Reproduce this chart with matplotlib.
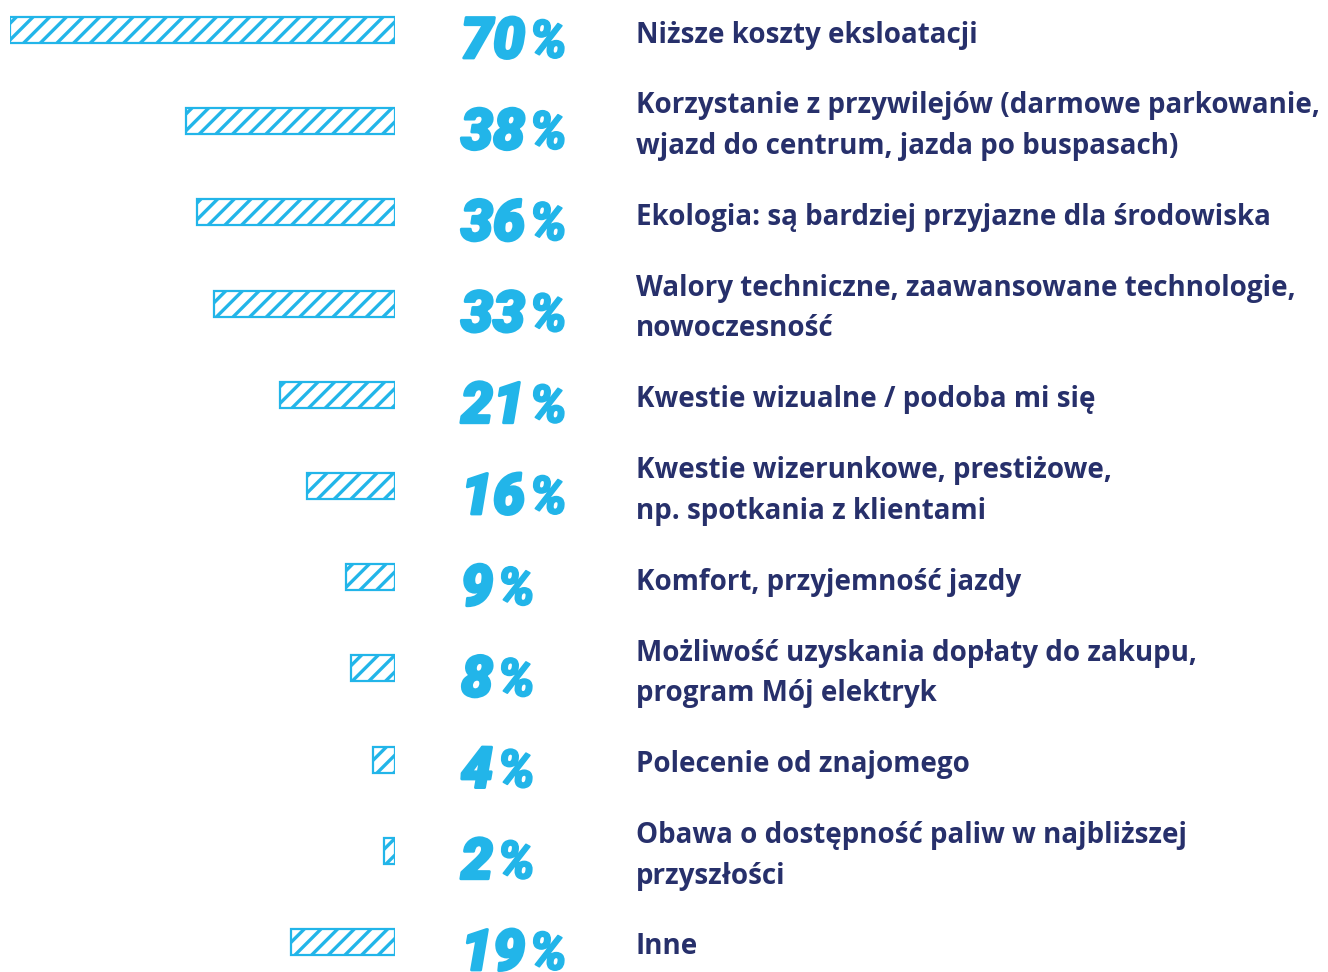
import matplotlib
matplotlib.use("Agg")
import matplotlib.pyplot as plt
import matplotlib.patheffects as pe
from matplotlib.transforms import blended_transform_factory

values = [70, 38, 36, 33, 21, 16, 9, 8, 4, 2, 19]
labels = [
    "Niższe koszty eksloatacji",
    "Korzystanie z przywilejów (darmowe parkowanie,\nwjazd do centrum, jazda po buspasach)",
    "Ekologia: są bardziej przyjazne dla środowiska",
    "Walory techniczne, zaawansowane technologie,\nnowoczesność",
    "Kwestie wizualne / podoba mi się",
    "Kwestie wizerunkowe, prestiżowe,\nnp. spotkania z klientami",
    "Komfort, przyjemność jazdy",
    "Możliwość uzyskania dopłaty do zakupu,\nprogram Mój elektryk",
    "Polecenie od znajomego",
    "Obawa o dostępność paliw w najbliższej\nprzyszłości",
    "Inne",
]

BLUE = "#22b5e9"
NAVY = "#27306b"
W, H = 1328, 972
plt.rcParams["hatch.linewidth"] = 2.4

fig = plt.figure(figsize=(W / 100, H / 100), dpi=100)
ax = fig.add_axes([10 / W, 0, (395 - 10) / W, 1])
ax.set_axis_off()
n = len(values)
step = 91.2
top = 30 / step
ax.set_ylim(n - 1 + top, -top)
ax.set_xlim(70, 0)
ys = list(range(n))
ax.barh(ys, values, height=26 / step, color="white", edgecolor=BLUE,
        hatch="//", linewidth=1.6)

tr = blended_transform_factory(fig.transFigure, ax.transData)
stroke = [pe.withStroke(linewidth=2.0, foreground=BLUE)]
for i, (v, lab) in enumerate(zip(values, labels)):
    num = ax.text(461 / W, i + 28 / step, str(v), transform=tr,
                  fontsize=41, fontweight=900, style="italic",
                  family=["Roboto", "DejaVu Sans"], color=BLUE,
                  ha="left", va="baseline", path_effects=stroke)
    ax.annotate("%", xy=(1, 0), xycoords=num, xytext=(3, 1),
                textcoords="offset points", fontsize=38, fontweight=900,
                style="italic", family=["Roboto", "DejaVu Sans"],
                color=BLUE, ha="left", va="bottom",
                path_effects=[pe.withStroke(linewidth=1.2, foreground=BLUE)])
    ax.text(636 / W, i + 5 / step, lab, transform=tr, fontsize=20,
            fontweight="bold", family=["Open Sans", "DejaVu Sans"],
            color=NAVY, ha="left", va="center", linespacing=1.52)

fig.savefig("out.png", dpi=100, facecolor="white")
